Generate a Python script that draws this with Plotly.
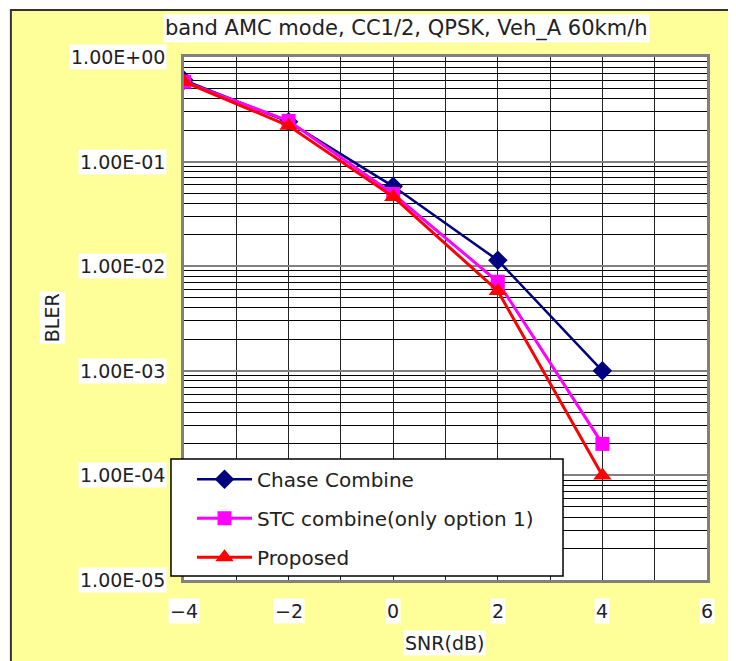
import math
import plotly.graph_objects as go

snr = [-4, -2, 0, 2, 4]
chase = [0.60, 0.24, 0.058, 0.0114, 0.001]
stc = [0.58, 0.245, 0.049, 0.0071, 0.0002]
proposed = [0.58, 0.22, 0.046, 0.0058, 0.0001]

y_tick_vals = [1e0, 1e-1, 1e-2, 1e-3, 1e-4, 1e-5]
y_tick_text = ["1.00E+00", "1.00E-01", "1.00E-02", "1.00E-03", "1.00E-04", "1.00E-05"]
x_tick_vals = [-4, -2, 0, 2, 4, 6]
x_tick_text = ["\u22124", "\u22122", "0", "2", "4", "6"]

title_text = "band AMC mode, CC1/2, QPSK, Veh_A 60km/h"
x_title = "SNR(dB)"
y_title = "BLER"

FONT = "DejaVu Sans"
TXT = "#222222"

fig = go.Figure()
fig.add_trace(go.Scatter(x=snr, y=chase, name="Chase Combine", mode="lines+markers",
                         legendgroup="a",
                         line=dict(color="#000080", width=2.5),
                         marker=dict(symbol="diamond", size=15, color="#000080")))
fig.add_trace(go.Scatter(x=snr, y=stc, name="STC combine(only option 1)", mode="lines+markers",
                         legendgroup="b",
                         line=dict(color="#FF00FF", width=3),
                         marker=dict(symbol="square", size=14, color="#FF00FF")))
fig.add_trace(go.Scatter(x=snr, y=proposed, name="Proposed", mode="lines+markers",
                         legendgroup="c",
                         line=dict(color="#FF0000", width=3),
                         marker=dict(symbol="triangle-up", size=16, color="#FF0000")))

annotations = []
for v, t in zip(y_tick_vals, y_tick_text):
    annotations.append(dict(x=-0.033, xref="paper", y=math.log10(v), yref="y",
                            text=t, showarrow=False, xanchor="right", yanchor="middle",
                            bgcolor="white", font=dict(family=FONT, size=19, color=TXT)))
for v, t in zip(x_tick_vals, x_tick_text):
    annotations.append(dict(x=v, xref="x", y=-0.059, yref="paper",
                            text=t, showarrow=False, xanchor="center", yanchor="middle",
                            bgcolor="white", font=dict(family=FONT, size=19, color=TXT)))
annotations.append(dict(x=0.4245, xref="paper", y=1.0545, yref="paper", text=title_text,
                        showarrow=False, xanchor="center", yanchor="middle", bgcolor="white",
                        font=dict(family=FONT, size=21, color=TXT)))
annotations.append(dict(x=0.499, xref="paper", y=-0.1205, yref="paper", text=x_title,
                        showarrow=False, xanchor="center", yanchor="middle", bgcolor="white",
                        font=dict(family=FONT, size=19, color=TXT)))
annotations.append(dict(x=-0.252, xref="paper", y=0.501, yref="paper", text=y_title,
                        showarrow=False, xanchor="center", yanchor="middle", bgcolor="white",
                        textangle=-90, font=dict(family=FONT, size=19, color=TXT)))

fig.update_layout(
    width=728, height=653,
    margin=dict(l=176, r=29, t=49, b=81),
    paper_bgcolor="white",
    plot_bgcolor="white",
    font=dict(family=FONT, size=19, color=TXT),
    showlegend=True,
    legend=dict(x=0.0153, y=0.230, xanchor="left", yanchor="top",
                bgcolor="rgba(0,0,0,0)", borderwidth=0,
                font=dict(family=FONT, size=20, color=TXT),
                traceorder="grouped", tracegroupgap=10, itemwidth=55),
    annotations=annotations,
    shapes=[
        dict(type="rect", xref="paper", yref="paper", x0=-0.331, x1=2, y0=-1, y1=1.09,
             fillcolor="#FFFF99", line=dict(color="#333333", width=2), layer="below"),
        dict(type="rect", xref="paper", yref="paper", x0=0, x1=1, y0=0, y1=1,
             fillcolor="white", line=dict(width=0), layer="below"),
        dict(type="rect", xref="paper", yref="paper", x0=-0.0249, x1=0.7247, y0=0.0076, y1=0.2314,
             fillcolor="white", line=dict(color="black", width=1.5), layer="above"),
    ],
)
fig.update_xaxes(range=[-4, 6], dtick=1, showgrid=True, gridcolor="#222222", gridwidth=1,
                 showline=True, mirror=True, linecolor="#808080", linewidth=3,
                 showticklabels=False, zeroline=False, ticks="")
fig.update_yaxes(type="log", range=[-5, 0], dtick=1, showgrid=True, gridcolor="#808080", gridwidth=2,
                 minor=dict(dtick="D1", showgrid=True, gridcolor="#000000", gridwidth=1),
                 showline=True, mirror=True, linecolor="#808080", linewidth=3,
                 showticklabels=False, zeroline=False, ticks="")

fig.write_html("out.html")
